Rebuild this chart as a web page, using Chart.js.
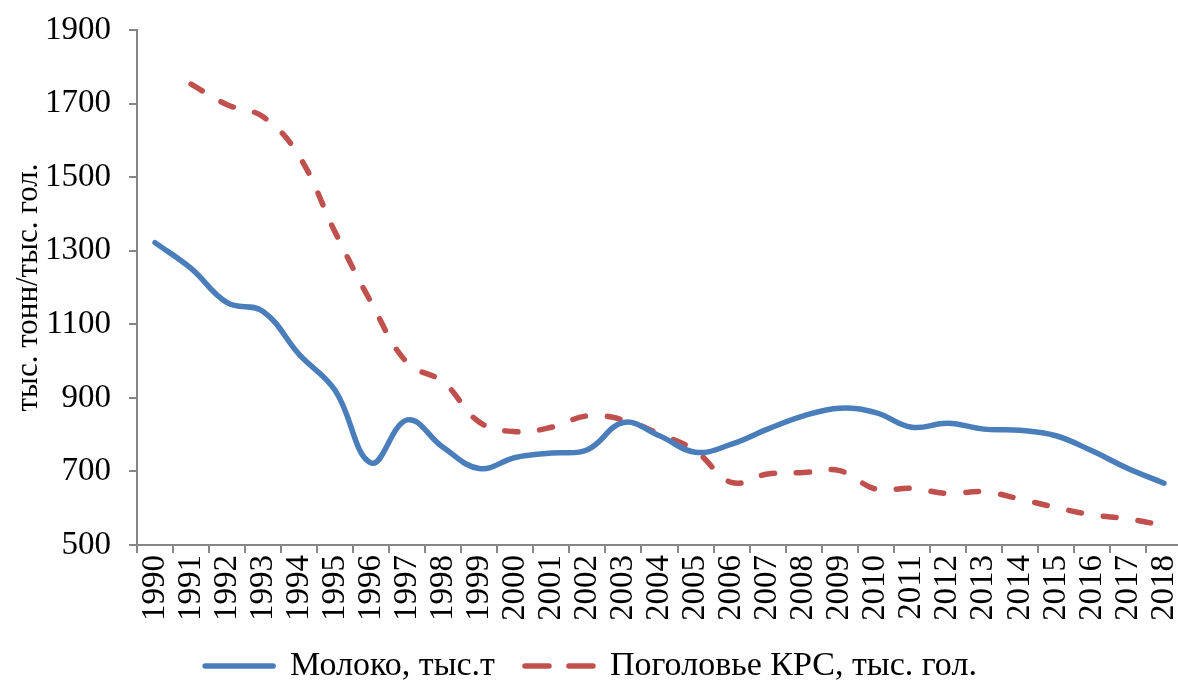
<!DOCTYPE html>
<html>
<head>
<meta charset="utf-8">
<script src="https://cdn.jsdelivr.net/npm/chart.js@4/dist/chart.umd.min.js"></script>
<style>
  html, body { margin:0; padding:0; background:#fff; overflow:hidden; }
  #wrap { width:1182px; height:684px; }
</style>
</head>
<body>
<div id="wrap"><canvas id="c"></canvas></div>
<script>
"use strict";
const YEARS = ["1990","1991","1992","1993","1994","1995","1996","1997","1998","1999",
  "2000","2001","2002","2003","2004","2005","2006","2007","2008","2009",
  "2010","2011","2012","2013","2014","2015","2016","2017","2018"];

// Молоко, тыс.т
const MILK = [1322,1252,1159,1135,1018,920,723,840,765,708,
  738,750,759,833,797,752,774,815,851,872,
  860,820,831,815,812,797,756,708,668];

// Поголовье КРС, тыс. гол. (no 1990 value)
const CATTLE = [null,1753,1697,1664,1557,1350,1159,995,943,834,
  808,820,851,840,802,756,670,693,697,702,
  652,654,640,645,625,602,582,571,553];

const Y_MIN = 500, Y_MAX = 1900, Y_STEP = 200;

const BLUE = "#4a7ebb";
const RED  = "#c0504d";
const AXIS = "#868686";
const FONT = "'Liberation Serif', 'Times New Roman', serif";
const LW = 5.5;

new Chart(document.getElementById("c"), {
  type: "line",
  data: {
    labels: YEARS,
    datasets: [
      { label:"Молоко, тыс.т", data: MILK, borderColor: BLUE, backgroundColor: BLUE,
        borderWidth: LW, tension: 0.4, pointRadius: 0, pointStyle: "line", borderCapStyle: "round" },
      { label:"Поголовье КРС, тыс. гол.", data: CATTLE, borderColor: RED, backgroundColor: RED,
        borderWidth: LW, borderDash: [13, 22], borderCapStyle: "round", tension: 0.4,
        pointRadius: 0, pointStyle: "line" }
    ]
  },
  options: {
    responsive: true,
    maintainAspectRatio: false,
    animation: false,
    layout: { padding: { top: 30, right: 0, bottom: -9, left: 0 } },
    plugins: {
      tooltip: { enabled: false },
      legend: {
        position: "bottom",
        labels: {
          usePointStyle: true, pointStyleWidth: 68, padding: 30,
          color: "#000", font: { family: FONT, size: 34 },
          generateLabels(chart) {
            const items = Chart.defaults.plugins.legend.labels.generateLabels(chart);
            items.forEach(it => {
              const ds = chart.data.datasets[it.datasetIndex];
              it.lineDash = ds.borderDash ? [24, 20] : [];
              it.lineWidth = LW;
              it.lineCap = "round";
            });
            return items;
          }
        }
      }
    },
    scales: {
      x: {
        offset: true,
        border: { color: AXIS, width: 2 },
        grid: { offset: true, drawOnChartArea: false, color: AXIS, lineWidth: 2, tickLength: 8 },
        ticks: { color: "#000", font: { family: FONT, size: 33 }, minRotation: 90, maxRotation: 90, padding: 2, autoSkip: false },
        afterFit(scale) { scale.paddingLeft = 0; scale.paddingRight = 0; scale.height -= 4; }
      },
      y: {
        min: Y_MIN, max: Y_MAX,
        border: { color: AXIS, width: 2 },
        grid: { drawOnChartArea: false, color: AXIS, lineWidth: 2, tickLength: 8 },
        ticks: { stepSize: Y_STEP, color: "#000", font: { family: FONT, size: 33 }, padding: 18,
          callback: v => String(v) },
        title: { display: true, text: "тыс. тонн/тыс. гол.", color: "#000", font: { family: FONT, size: 31 }, padding: { top: 10, bottom: 0 } },
        afterFit(scale) { scale.width = 137; scale.paddingTop = 0; scale.paddingBottom = 0; }
      }
    }
  }
});
</script>
</body>
</html>
